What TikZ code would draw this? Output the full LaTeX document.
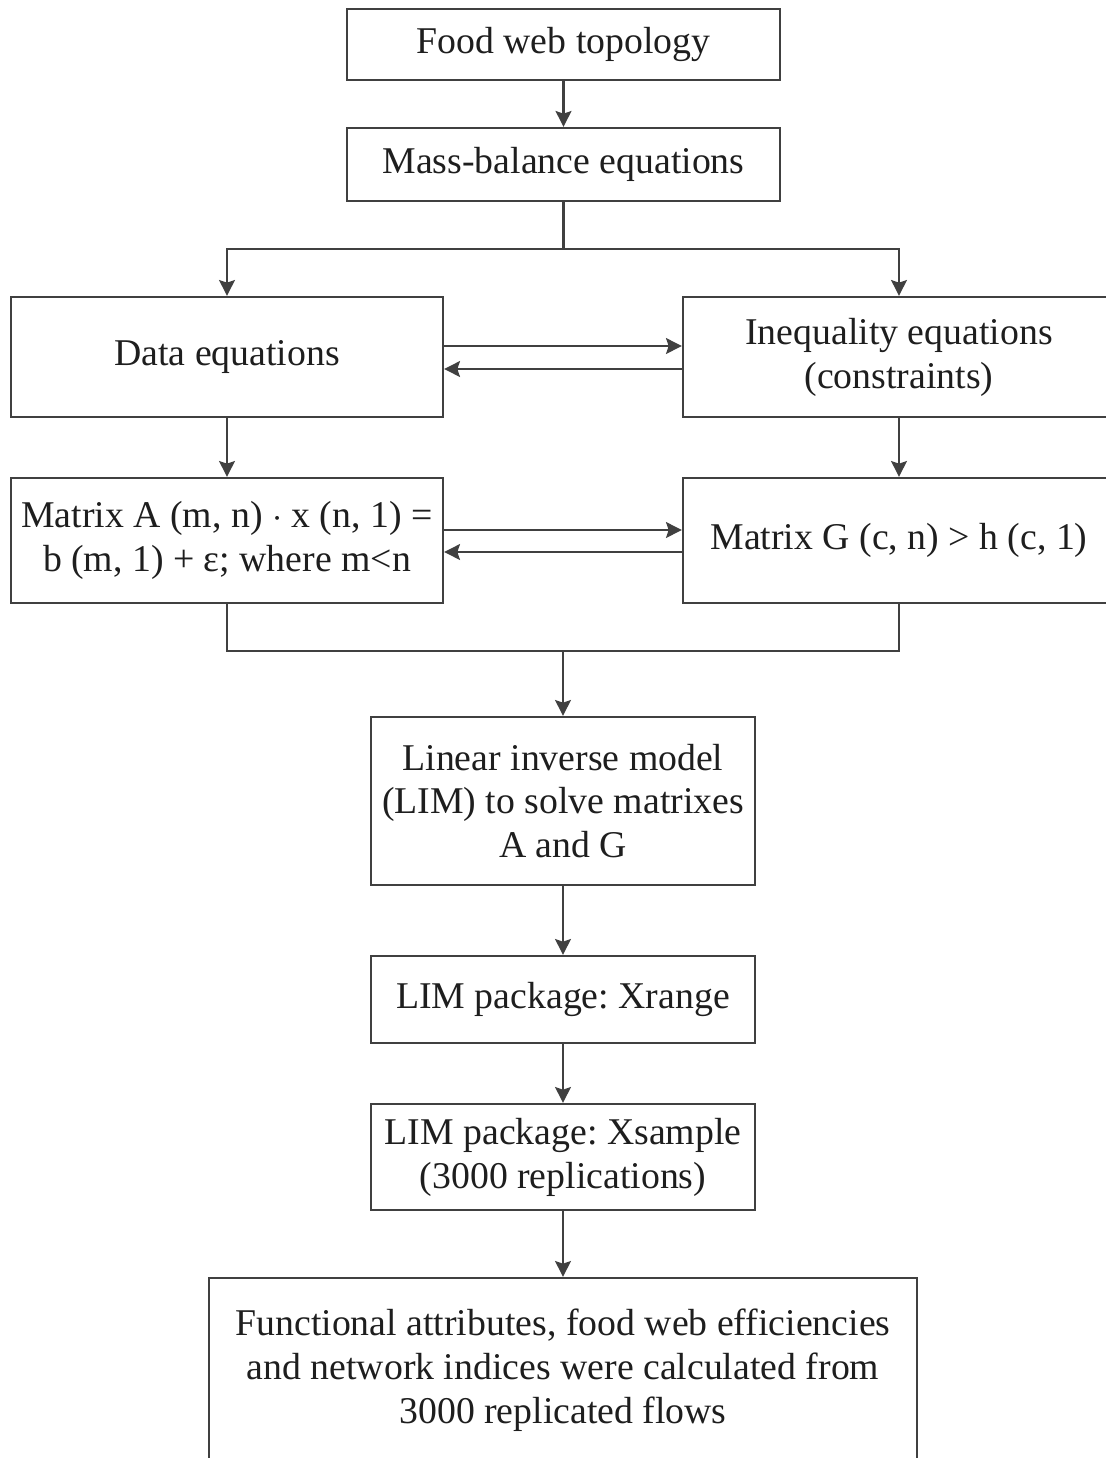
\documentclass[tikz,border=0pt]{standalone}
\usepackage{fontspec}
\setmainfont{Liberation Serif}
\frenchspacing
\usetikzlibrary{
    positioning,
    arrows.meta,
    calc
}
\definecolor{linegray}{RGB}{64,64,64}
\definecolor{textgray}{RGB}{30,30,30}
\tikzset{
    > = {Stealth[length=9pt, width=9pt, inset=1.5pt]},
    stepbox/.style = {draw=linegray, line width=1.3pt, align=center,
        inner sep=0pt, text=textgray,
        font=\fontsize{21.5}{25}\selectfont},
    flow/.style = {draw=linegray, line width=1.3pt},
}

\begin{document}
\begin{tikzpicture}[x=0.02cm, y=-0.02cm]
\useasboundingbox (0,0) rectangle (1106,1458);

% boxes
\node[stepbox, minimum width=433*0.02cm, minimum height=71*0.02cm] (topo) at (563.5,44.5) {Food web topology};
\node[stepbox, minimum width=433*0.02cm, minimum height=73*0.02cm] (mass) at (563.5,164.5) {Mass-balance equations};

\node[stepbox, minimum width=432*0.02cm, minimum height=120*0.02cm] (data) at (227,357) {Data equations};
\node[stepbox, minimum width=432*0.02cm, minimum height=120*0.02cm] (ineq) at (899,357) {Inequality equations\\(constraints)};

\node[stepbox, minimum width=432*0.02cm, minimum height=125*0.02cm] (matA) at (227,540.5) {Matrix A (m, n) $\cdot$ x (n, 1) =\\b (m, 1) + ε; where m<n};
\node[stepbox, minimum width=432*0.02cm, minimum height=125*0.02cm] (matG) at (899,540.5) {Matrix G (c, n) > h (c, 1)};

\node[stepbox, minimum width=384*0.02cm, minimum height=168*0.02cm] (lim) at (563,801) {Linear inverse model\\(LIM) to solve matrixes\\A and G};
\node[stepbox, minimum width=384*0.02cm, minimum height=87*0.02cm] (xrange) at (563,999.5) {LIM package: Xrange};
\node[stepbox, minimum width=384*0.02cm, minimum height=106*0.02cm] (xsample) at (563,1157) {LIM package: Xsample\\(3000 replications)};
\node[stepbox, minimum width=708*0.02cm, minimum height=184*0.02cm] (func) at (563,1370) {Functional attributes, food web efficiencies\\and network indices were calculated from\\3000 replicated flows};

% split and merge points
\coordinate (split) at (563.5,249);
\coordinate (merge) at (563,651);

% connectors
\draw[flow, ->] (topo) -- (mass);
\draw[flow] (mass) -- (split);
\draw[flow, ->] (split) -| (data.north);
\draw[flow, ->] (split) -| (ineq.north);

\draw[flow, ->] ($(data.east)+(0,-11)$) -- ($(ineq.west)+(0,-11)$);
\draw[flow, ->] ($(ineq.west)+(0,12)$) -- ($(data.east)+(0,12)$);

\draw[flow, ->] (data) -- (matA);
\draw[flow, ->] (ineq) -- (matG);

\draw[flow, ->] ($(matA.east)+(0,-10.5)$) -- ($(matG.west)+(0,-10.5)$);
\draw[flow, ->] ($(matG.west)+(0,11.5)$) -- ($(matA.east)+(0,11.5)$);

\draw[flow] (matA.south) |- (merge) -| (matG.south);
\draw[flow, ->] (merge) -- (lim.north);

\draw[flow, ->] (lim) -- (xrange);
\draw[flow, ->] (xrange) -- (xsample);
\draw[flow, ->] (xsample) -- (func);
\end{tikzpicture}
\end{document}
